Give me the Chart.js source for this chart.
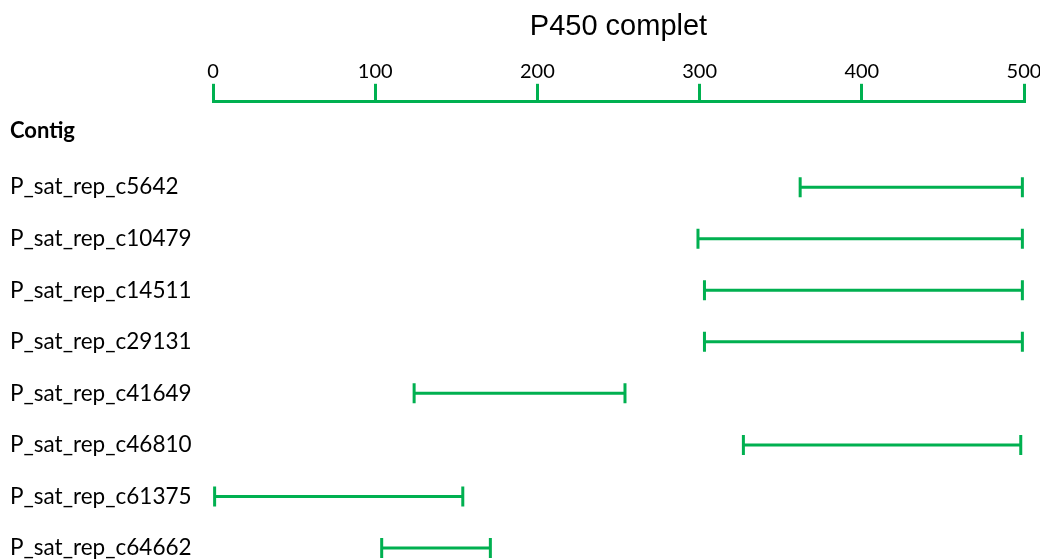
<!DOCTYPE html>
<html>
<head>
<meta charset="utf-8">
<script src="https://cdn.jsdelivr.net/npm/chart.js@4"></script>
<style>
  body { margin: 0; background: #fff; }
</style>
</head>
<body>
<canvas id="contigChart" width="1040" height="559"></canvas>
<script>
// Contig coverage on the P450 sequence
const contigs = ['P_sat_rep_c5642', 'P_sat_rep_c10479', 'P_sat_rep_c14511', 'P_sat_rep_c29131',
                 'P_sat_rep_c41649', 'P_sat_rep_c46810', 'P_sat_rep_c61375', 'P_sat_rep_c64662'];
const starts = [362, 299, 303, 303, 124, 327, 1, 104];
const ends = [499, 499, 499, 499, 254, 498, 154, 171];
const xTicks = [0, 100, 200, 300, 400, 500];

const green = '#00B050';

// draws each range as a line with end caps
const rangeBars = {
    id: 'rangeBars',
    afterDatasetsDraw(chart) {
        const ctx = chart.ctx;
        const meta = chart.getDatasetMeta(0);
        ctx.save();
        ctx.strokeStyle = green;
        ctx.lineWidth = 3;
        meta.data.forEach(bar => {
            const p = bar.getProps(['x', 'y', 'base'], true);
            ctx.beginPath();
            ctx.moveTo(p.base, p.y);
            ctx.lineTo(p.x, p.y);
            ctx.moveTo(p.base, p.y - 10);
            ctx.lineTo(p.base, p.y + 10);
            ctx.moveTo(p.x, p.y - 10);
            ctx.lineTo(p.x, p.y + 10);
            ctx.stroke();
        });
        ctx.restore();
    }
};

const ctx = document.getElementById('contigChart').getContext('2d');
new Chart(ctx, {
    type: 'bar',
    data: {
        labels: contigs,
        datasets: [{
            data: contigs.map((c, i) => [starts[i], ends[i]]),
            backgroundColor: 'rgba(0,0,0,0)',
            borderWidth: 0
        }]
    },
    options: {
        indexAxis: 'y',
        responsive: false,
        animation: false,
        layout: { padding: { left: 10, right: 16, top: 0, bottom: 11 } },
        plugins: {
            legend: { display: false },
            tooltip: { enabled: false },
            title: {
                display: true,
                fullSize: false,
                text: 'P450 complet',
                color: '#000',
                font: { family: 'Liberation Sans', size: 29, weight: 'normal' },
                padding: { top: 10, bottom: 15 }
            },
            subtitle: {
                display: true,
                text: 'Contig',
                align: 'start',
                weight: 500,
                color: '#000',
                font: { family: 'Lato', size: 22, weight: 'bold' },
                padding: { top: 16, bottom: 43 }
            }
        },
        scales: {
            x: {
                type: 'linear',
                position: 'top',
                weight: 1000,
                min: 0,
                max: 500,
                afterBuildTicks: scale => { scale.ticks = xTicks.map(v => ({ value: v })); },
                afterFit: scale => { scale.paddingLeft = 0; scale.paddingRight = 0; },
                ticks: {
                    color: '#000',
                    font: { family: 'Lato', size: 20 },
                    padding: 0
                },
                grid: {
                    drawOnChartArea: false,
                    drawTicks: true,
                    tickLength: 18,
                    color: green,
                    lineWidth: 3
                },
                border: { color: green, width: 3 }
            },
            y: {
                type: 'category',
                offset: false,
                afterFit: scale => {
                    scale.width = 203;
                    scale.paddingTop = 0;
                    scale.paddingBottom = 0;
                },
                ticks: {
                    color: '#000',
                    font: { family: 'Lato', size: 22.5 },
                    crossAlign: 'far',
                    padding: 0
                },
                grid: { display: false },
                border: { display: false }
            }
        }
    },
    plugins: [rangeBars]
});
</script>
</body>
</html>
